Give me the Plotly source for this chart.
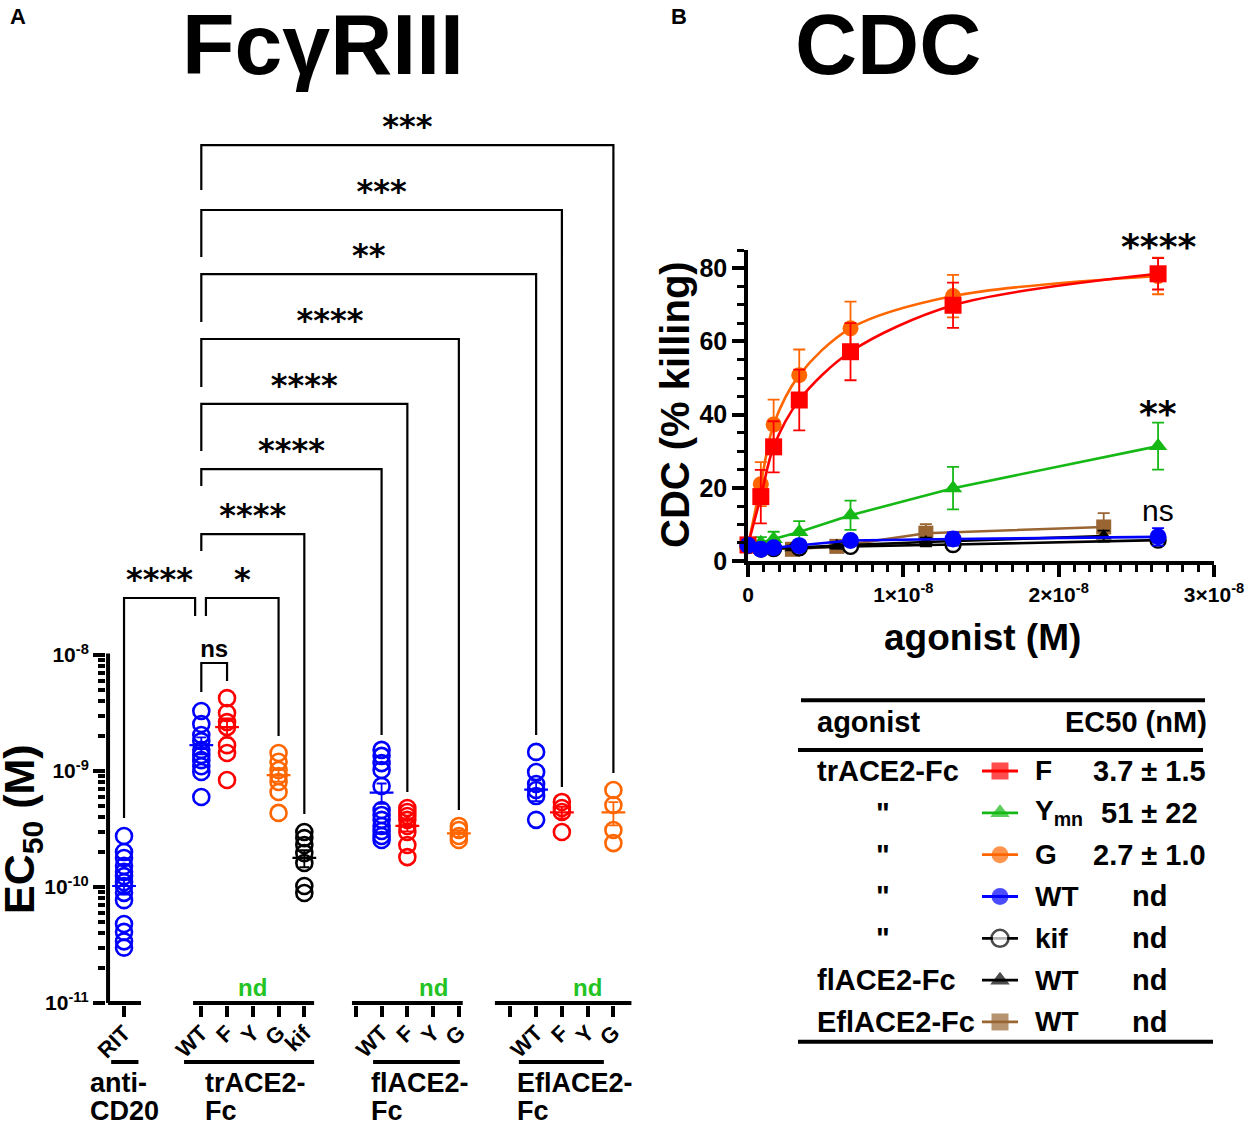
import plotly.graph_objects as go

W, H = 1251, 1125
FONT = "Liberation Sans, Arial, sans-serif"
STAR_FONT = "DejaVu Sans, sans-serif"

BLUE = "#0000ff"
RED = "#ff0000"
ORANGE = "#ff6600"
GREEN = "#16b816"
ND_GREEN = "#22c322"
BROWN = "#996633"
BLACK = "#000000"


def px(x):
    return x / W


def py(y):
    return 1 - y / H


# ---------------- panel A : FcgRIII EC50 (M) ----------------
rit = [2.75e-10, 2.0e-10, 1.78e-10, 1.52e-10, 1.35e-10, 1.24e-10, 1.10e-10,
       1.02e-10, 8.9e-11, 7.7e-11, 4.8e-11, 4.1e-11, 3.4e-11, 3.0e-11]
tr_wt = [3.29e-9, 2.54e-9, 2.04e-9, 1.81e-9, 1.52e-9, 1.37e-9, 1.24e-9,
         1.10e-9, 9.8e-10, 5.97e-10]
tr_f = [4.25e-9, 3.16e-9, 2.64e-9, 2.39e-9, 1.67e-9, 1.43e-9, 8.36e-10]
tr_g = [1.43e-9, 1.20e-9, 1.02e-9, 9.06e-10, 8.04e-10, 6.59e-10, 4.35e-10]
tr_kif = [2.98e-10, 2.64e-10, 2.30e-10, 1.96e-10, 1.61e-10, 1.02e-10, 8.87e-11]
fl_wt = [1.52e-9, 1.35e-9, 1.17e-9, 1.02e-9, 7.43e-10, 4.61e-10, 4.18e-10,
         3.79e-10, 3.36e-10, 3.04e-10, 2.75e-10, 2.54e-10]
fl_f = [4.80e-10, 4.43e-10, 4.09e-10, 3.79e-10, 3.36e-10, 2.98e-10, 2.30e-10, 1.81e-10]
fl_g = [3.36e-10, 3.10e-10, 2.75e-10, 2.54e-10]
efl_wt = [1.46e-9, 9.8e-10, 7.72e-10, 6.86e-10, 6.08e-10, 3.79e-10]
efl_f = [5.41e-10, 4.80e-10, 4.43e-10, 2.98e-10]
efl_g = [6.86e-10, 5.09e-10, 3.10e-10, 2.39e-10]

# mean +/- SEM bars, same order as groups below
group_mean = [1.02e-10, 1.67e-9, 2.39e-9, 9.2e-10, 1.78e-10, 6.5e-10,
              3.36e-10, 2.9e-10, 6.9e-10, 4.4e-10, 4.4e-10]
group_sem = [1.6e-11, 2.8e-10, 4.5e-10, 1.1e-10, 3.0e-11, 1.3e-10,
             3.5e-11, 1.8e-11, 1.4e-10, 5.0e-11, 1.0e-10]

# slot on the category axis for every column
tick_slots = [0, 3, 4, 5, 6, 7, 9, 10, 11, 12, 13, 15, 16, 17, 18, 19]
tick_labels = ["RIT", "WT", "F", "Y", "G", "kif", " ", "WT", "F", "Y", "G",
               " ", "WT", "F", "Y", "G"]
nd_slots = [5, 12, 18]

groups = [
    (0, rit, BLUE), (3, tr_wt, BLUE), (4, tr_f, RED), (6, tr_g, ORANGE),
    (7, tr_kif, BLACK), (10, fl_wt, BLUE), (11, fl_f, RED), (13, fl_g, ORANGE),
    (16, efl_wt, BLUE), (17, efl_f, RED), (19, efl_g, ORANGE),
]

# significance brackets (x in slots, heights in M)
br_x0 = [3, 3, 3, 3, 3, 3, 3, 3.18, 0, 3]
br_x1 = [19, 17, 16, 13, 11, 10, 7, 6, 2.76, 4]
br_top = [2.49e-4, 6.86e-5, 1.92e-5, 5.30e-6, 1.46e-6, 4.01e-7, 1.10e-7,
          3.10e-8, 3.10e-8, 8.53e-9]
br_bot0 = [1.02e-4, 2.70e-5, 7.43e-6, 2.04e-6, 5.74e-7, 2.86e-7, 7.88e-8,
           2.17e-8, 3.94e-10, 4.80e-9]
br_bot1 = [9.62e-10, 7.28e-10, 2.04e-9, 4.61e-10, 6.59e-10, 2.04e-9, 4.26e-10,
           2.0e-9, 2.17e-8, 5.97e-9]
br_label = ["***", "***", "**", "****", "****", "****", "****", "*", "****", "ns"]

# x-axis base segments and group underlines (slots)
base_segments = [(-0.62, 0.66), (2.68, 7.38), (8.85, 13.15), (14.4, 19.7)]
underlines = [(-0.5, 0.56), (2.33, 7.38), (9.67, 13.04), (15.33, 18.63)]
group_names = [("anti-", "CD20"), ("trACE2-", "Fc"), ("flACE2-", "Fc"), ("EflACE2-", "Fc")]
group_name_px = [88, 203, 369, 515]

# ---------------- panel B : CDC ----------------
conc_tr = [0, 0.825e-9, 1.65e-9, 3.3e-9, 6.6e-9, 13.2e-9, 26.4e-9]
conc_fl = [0, 2.86e-9, 5.72e-9, 11.45e-9, 22.9e-9]

cdc_f = [4.4, 17.6, 31.2, 44.0, 57.2, 69.9, 78.5]
err_f = [0.8, 7.3, 7.0, 8.3, 7.8, 6.2, 4.3]
cdc_g = [4.2, 21.0, 37.3, 50.8, 63.6, 72.4, 77.9]
err_g = [0.8, 6.0, 6.8, 7.0, 7.3, 5.8, 5.0]
cdc_ymn = [4.6, 5.0, 6.0, 7.9, 12.5, 19.9, 31.4]
err_ymn = [0.5, 1.5, 2.0, 3.0, 4.0, 5.8, 6.4]
cdc_wt = [4.3, 3.2, 3.6, 4.2, 5.6, 6.0, 6.6]
err_wt = [0.5, 0.5, 0.6, 0.8, 1.0, 1.8, 2.4]
cdc_kif = [4.2, 3.3, 3.4, 3.6, 4.0, 4.5, 5.7]
err_kif = [0.5, 0.5, 0.5, 0.6, 0.8, 1.0, 1.2]
cdc_fl_wt = [4.2, 3.6, 4.2, 5.2, 6.8]
err_fl_wt = [0.5, 0.6, 0.8, 1.2, 1.5]
cdc_efl_wt = [4.2, 3.2, 4.0, 7.6, 9.3]
err_efl_wt = [0.5, 0.6, 0.8, 2.5, 3.8]

sig_text = ["****", "**", "ns"]
sig_px = [246, 413, 510]  # label rows above the last concentration

# table
row_group = ["trACE2-Fc", "\"", "\"", "\"", "\"", "flACE2-Fc", "EflACE2-Fc"]
row_variant = ["F", "Y<sub>mn</sub>", "G", "WT", "kif", "WT", "WT"]
row_ec50 = ["3.7 ± 1.5", "51 ± 22", "2.7 ± 1.0", "nd", "nd", "nd", "nd"]

fig = go.Figure()

# ---- panel A traces ----
bx, by = [], []
for x0, x1, top, b0, b1 in zip(br_x0, br_x1, br_top, br_bot0, br_bot1):
    bx += [x0, x0, x1, x1, None]
    by += [b0, top, top, b1, None]
fig.add_trace(go.Scatter(x=bx, y=by, mode="lines", line=dict(color=BLACK, width=2.2),
                         xaxis="x", yaxis="y", hoverinfo="skip"))

stars = [i for i, t in enumerate(br_label) if t != "ns"]
fig.add_trace(go.Scatter(
    x=[(br_x0[i] + br_x1[i]) / 2 for i in stars], y=[br_top[i] for i in stars],
    text=[br_label[i] for i in stars], mode="text", textposition="top center",
    textfont=dict(family=STAR_FONT, size=32, color=BLACK, weight="bold"),
    cliponaxis=False, xaxis="x", yaxis="y", hoverinfo="skip"))
ns = [i for i, t in enumerate(br_label) if t == "ns"]
fig.add_trace(go.Scatter(
    x=[(br_x0[i] + br_x1[i]) / 2 for i in ns], y=[br_top[i] for i in ns],
    text=[br_label[i] for i in ns], mode="text", textposition="top center",
    textfont=dict(family=FONT, size=24, color=BLACK, weight="bold"),
    cliponaxis=False, xaxis="x", yaxis="y", hoverinfo="skip"))

# axis line + broken base
fig.add_trace(go.Scatter(x=[-0.62, -0.62], y=[1e-11, 1.03e-8], mode="lines",
                         line=dict(color=BLACK, width=4), xaxis="x", yaxis="y",
                         hoverinfo="skip"))
sx, sy = [], []
for a, b in base_segments:
    sx += [a, b, None]
    sy += [1e-11, 1e-11, None]
fig.add_trace(go.Scatter(x=sx, y=sy, mode="lines", line=dict(color=BLACK, width=4),
                         xaxis="x", yaxis="y", hoverinfo="skip"))

for (slot, vals, col), m, e in zip(groups, group_mean, group_sem):
    fig.add_trace(go.Scatter(
        x=[slot] * len(vals), y=vals, mode="markers",
        marker=dict(symbol="circle-open", size=16, color=col, line=dict(width=2.6)),
        cliponaxis=False, xaxis="x", yaxis="y", hoverinfo="skip"))
    fig.add_trace(go.Scatter(
        x=[slot], y=[m], mode="markers",
        marker=dict(symbol="line-ew", size=17, color=col, line=dict(width=2.2, color=col)),
        error_y=dict(type="data", array=[e], thickness=1.8, width=5, color=col),
        xaxis="x", yaxis="y", hoverinfo="skip"))

# ---- panel B traces ----
def cdc_trace(x, y, err, col, symbol, size, spline=False, fill=None):
    return go.Scatter(
        x=x, y=y, mode="lines+markers",
        line=dict(color=col, width=2.6, shape="spline" if spline else "linear", smoothing=0.9),
        marker=dict(symbol=symbol, size=size, color=fill or col,
                    line=dict(color=col, width=2.4 if fill else 0)),
        error_y=dict(type="data", array=err, color=col, thickness=1.8, width=6),
        cliponaxis=False, xaxis="x2", yaxis="y2", hoverinfo="skip")


fig.add_trace(cdc_trace(conc_fl, cdc_efl_wt, err_efl_wt, BROWN, "square", 15))
fig.add_trace(cdc_trace(conc_fl, cdc_fl_wt, err_fl_wt, BLACK, "triangle-up", 14))
fig.add_trace(cdc_trace(conc_tr, cdc_kif, err_kif, BLACK, "circle", 15, fill="white"))
fig.add_trace(cdc_trace(conc_tr, cdc_ymn, err_ymn, GREEN, "triangle-up", 16))
fig.add_trace(cdc_trace(conc_tr, cdc_g, err_g, ORANGE, "circle", 16, spline=True))
fig.add_trace(cdc_trace(conc_tr, cdc_f, err_f, RED, "square", 17, spline=True))
fig.add_trace(cdc_trace(conc_tr, cdc_wt, err_wt, BLUE, "circle", 17))

# legend symbols of the table
legend_style = [
    (RED, "square", None), (GREEN, "triangle-up", None), (ORANGE, "circle", None),
    (BLUE, "circle", None), (BLACK, "circle", "white"), (BLACK, "triangle-up", None),
    (BROWN, "square", None),
]
for i, (col, sym, fill) in enumerate(legend_style):
    fig.add_trace(go.Scatter(
        x=[0, 0.5, 1], y=[i, i, i], mode="lines+markers",
        line=dict(color=col, width=2.8),
        marker=dict(symbol=sym, size=[0, 17, 0], color=fill or col,
                    line=dict(color=col, width=2.6 if fill else 0)),
        xaxis="x3", yaxis="y3", hoverinfo="skip"))

# ---- annotations ----
ann = []
bold = dict(family=FONT, color=BLACK, weight="bold")

ann.append(dict(text="A", x=px(18), y=py(17), font=dict(size=22, **bold)))
ann.append(dict(text="B", x=px(679), y=py(17), font=dict(size=22, **bold)))
ann.append(dict(text="FcγRIII", x=px(323), y=py(44), font=dict(size=86, **bold)))
ann.append(dict(text="CDC", x=px(888), y=py(44), font=dict(size=86, **bold)))

ann.append(dict(text="EC<sub>50</sub> (M)", x=px(22), y=py(829), textangle=-90,
                font=dict(size=43, **bold)))
for s in nd_slots:
    ann.append(dict(text="nd", x=s, xref="x", y=py(987),
                    font=dict(family=FONT, size=24, color=ND_GREEN, weight="bold")))
for (l1, l2), gx in zip(group_names, group_name_px):
    ann.append(dict(text=l1, x=px(gx), y=py(1083), xanchor="left", font=dict(size=27, **bold)))
    ann.append(dict(text=l2, x=px(gx), y=py(1111), xanchor="left", font=dict(size=27, **bold)))

ann.append(dict(text="CDC (% killing)", x=px(675), y=py(405), textangle=-90,
                font=dict(size=40, **bold)))
ann.append(dict(text="agonist (M)", x=px(982), y=py(637), font=dict(size=37, **bold)))
for t, yp in zip(sig_text, sig_px):
    f = dict(family=STAR_FONT, size=36, color=BLACK, weight="bold") if t != "ns" \
        else dict(family=FONT, size=30, color=BLACK)
    ann.append(dict(text=t, x=conc_tr[-1], xref="x2", y=py(yp), font=f))

# table text
ann.append(dict(text="agonist", x=px(815), y=-1.17, yref="y3", xanchor="left",
                font=dict(size=29, **bold)))
ann.append(dict(text="EC50 (nM)", x=px(1209), y=-1.17, yref="y3", xanchor="right",
                font=dict(size=29, **bold)))
for i in range(len(row_group)):
    if row_group[i] == "\"":
        ann.append(dict(text=row_group[i], x=px(883), y=i, yref="y3",
                        font=dict(size=29, **bold)))
    else:
        ann.append(dict(text=row_group[i], x=px(815), y=i, yref="y3", xanchor="left",
                        font=dict(size=29, **bold)))
    ann.append(dict(text=row_variant[i], x=px(1033), y=i, yref="y3", xanchor="left",
                    font=dict(size=28, **bold)))
    ann.append(dict(text=row_ec50[i], x=px(1149), y=i, yref="y3",
                    font=dict(size=29, **bold)))

for a in ann:
    a.setdefault("xref", "paper")
    a.setdefault("yref", "paper")
    a.setdefault("showarrow", False)
    a.setdefault("xanchor", "center")
    a.setdefault("yanchor", "middle")

shapes = []
for a, b in underlines:
    shapes.append(dict(type="line", xref="x", yref="paper", x0=a, x1=b,
                       y0=py(1062), y1=py(1062), line=dict(color=BLACK, width=4)))
for y0, xa, xb in [(-1.69, 801, 1205), (-0.50, 798, 1203), (6.47, 798, 1213)]:
    shapes.append(dict(type="line", xref="paper", yref="y3", x0=px(xa), x1=px(xb),
                       y0=y0, y1=y0, line=dict(color=BLACK, width=4)))

minor_left = [m * 10.0 ** e for e in (-11, -10, -9) for m in range(2, 10)]

fig.update_layout(
    width=W, height=H, margin=dict(l=0, r=0, t=0, b=0, autoexpand=False),
    paper_bgcolor="white", plot_bgcolor="white", showlegend=False,
    font=dict(family=FONT, color=BLACK),
    annotations=ann, shapes=shapes,
    xaxis=dict(domain=[px(106), px(634)], range=[-0.7, 19.8], showgrid=False,
               zeroline=False, showline=False, ticks="outside", ticklen=11, tickwidth=3.5,
               tickcolor=BLACK, tickmode="array", tickvals=tick_slots, ticktext=tick_labels,
               tickangle=-45, tickfont=dict(size=22, **bold), ticklabelstandoff=-6,
               anchor="y", automargin=False),
    yaxis=dict(domain=[py(1005.3), py(133)], type="log", range=[-11.02, -3.5],
               showgrid=False, zeroline=False, showline=False, ticks="outside",
               ticklen=12, tickwidth=3.5, tickcolor=BLACK, tickmode="array",
               tickvals=[1e-11, 1e-10, 1e-9, 1e-8],
               ticktext=["10<sup>-11</sup>", "10<sup>-10</sup>", "10<sup>-9</sup>", "10<sup>-8</sup>"],
               tickfont=dict(size=21, **bold), anchor="x", automargin=False,
               minor=dict(tickmode="array", tickvals=minor_left, ticks="outside",
                          ticklen=7, tickwidth=3.5, tickcolor=BLACK, showgrid=False)),
    xaxis2=dict(domain=[px(748), px(1214)], range=[0, 3e-8], showgrid=False,
                zeroline=False, showline=True, linewidth=3.5, linecolor=BLACK,
                ticks="outside", ticklen=12, tickwidth=3.5, tickcolor=BLACK,
                tickmode="array", tickvals=[0, 1e-8, 2e-8, 3e-8],
                ticktext=["0", "1×10<sup>-8</sup>", "2×10<sup>-8</sup>", "3×10<sup>-8</sup>"],
                tickfont=dict(size=21, **bold), anchor="y2", automargin=False,
                minor=dict(dtick=1e-9, tick0=0, ticks="outside", ticklen=7,
                           tickwidth=3, tickcolor=BLACK, showgrid=False)),
    yaxis2=dict(domain=[py(561), py(250)], range=[0, 85], showgrid=False,
                zeroline=False, showline=True, linewidth=3.5, linecolor=BLACK,
                ticks="outside", ticklen=12, tickwidth=3.5, tickcolor=BLACK,
                tickmode="array", tickvals=[0, 20, 40, 60, 80],
                tickfont=dict(size=25, **bold), anchor="x2", automargin=False,
                minor=dict(dtick=5, tick0=0, ticks="outside", ticklen=7,
                           tickwidth=3, tickcolor=BLACK, showgrid=False)),
    xaxis3=dict(domain=[px(982), px(1018)], range=[0, 1], visible=False, anchor="y3",
                automargin=False),
    yaxis3=dict(domain=[py(1050), py(690)], range=[6.67, -1.936], visible=False,
                anchor="x3", automargin=False),
)

# the page body has a default 8px margin; drop it so the figure sits at the corner
fig.write_html("out.html", config={"displayModeBar": False},
               post_script="document.body.style.margin = '0px';")
